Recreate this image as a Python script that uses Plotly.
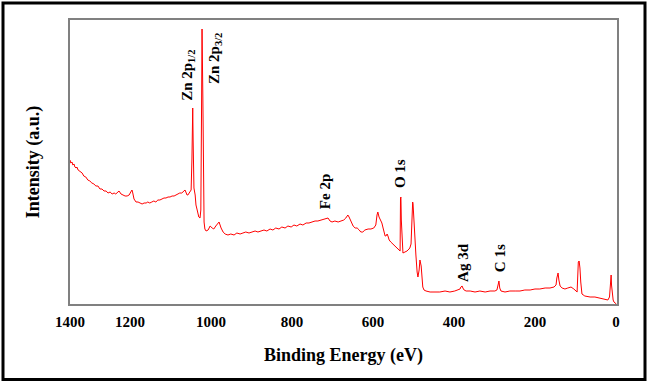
import plotly.graph_objects as go

# Binding energy (eV) and intensity (a.u.)
energy = [1348, 1346, 1343, 1341, 1338, 1336, 1333, 1331, 1328, 1323, 1318, 1314, 1309, 1304, 1299,
          1294, 1289, 1284, 1279, 1274, 1269, 1264, 1259, 1254, 1249, 1244, 1239, 1235, 1230, 1227,
          1222, 1217, 1212, 1207, 1202, 1198, 1195, 1193, 1190, 1185, 1180, 1175, 1170, 1165, 1160,
          1156, 1151, 1146, 1141, 1136, 1131, 1126, 1121, 1116, 1111, 1106, 1101, 1096, 1091, 1086,
          1081, 1077, 1072, 1067, 1064, 1062, 1059, 1057, 1054, 1052, 1049, 1047, 1046, 1045, 1044,
          1043, 1042, 1039, 1037, 1034, 1032, 1030, 1027, 1025, 1023, 1022, 1020, 1019, 1017, 1015,
          1012, 1007, 1002, 997, 993, 988, 983, 980, 975, 970, 965, 958, 951, 943, 936,
          928, 921, 914, 906, 899, 891, 884, 877, 869, 862, 854, 847, 840, 832, 825,
          817, 810, 802, 795, 788, 780, 773, 765, 758, 751, 743, 736, 728, 721, 716,
          711, 706, 701, 694, 686, 679, 672, 667, 662, 659, 654, 649, 644, 639, 634,
          630, 625, 620, 612, 605, 598, 593, 590, 588, 585, 583, 580, 578, 575, 573,
          570, 568, 565, 563, 560, 556, 551, 546, 541, 536, 533, 532, 531, 530, 528,
          526, 521, 516, 511, 509, 506, 504, 502, 501, 499, 496, 494, 491, 489, 486,
          484, 481, 479, 477, 474, 469, 459, 447, 435, 422, 410, 398, 390, 385, 383,
          380, 378, 375, 370, 360, 348, 336, 323, 311, 299, 294, 290, 289, 287, 284,
          274, 262, 249, 237, 225, 212, 200, 188, 175, 163, 153, 148, 146, 143, 141,
          138, 133, 126, 119, 111, 104, 99, 96, 94, 93, 91, 89, 87, 84, 77,
          64, 52, 40, 27, 20, 16, 14, 12, 11, 9, 7, 5, 2, -1]
intensity = [144, 141, 142, 139, 140, 137, 136, 137, 134, 132, 131, 128, 127, 124, 123,
             121, 120, 118, 118, 115, 115, 113, 113, 111, 112, 110, 111, 110, 112, 113,
             110, 109, 108, 108, 109, 112, 114, 111, 105, 102, 102, 101, 100, 101, 101,
             102, 101, 102, 103, 102, 104, 104, 105, 106, 106, 107, 107, 108, 108, 109,
             110, 111, 111, 113, 114, 112, 109, 109, 111, 112, 114, 144, 166, 196, 164,
             124, 116, 109, 99, 94, 90, 87, 86, 94, 207, 275, 207, 104, 82, 75,
             73, 74, 78, 76, 75, 78, 81, 82, 76, 72, 70, 69, 70, 69, 71,
             70, 71, 72, 71, 72, 73, 72, 73, 74, 73, 75, 74, 76, 75, 77,
             76, 78, 77, 79, 78, 80, 79, 81, 81, 82, 83, 83, 84, 85, 86,
             86, 83, 82, 83, 82, 83, 84, 86, 89, 87, 83, 78, 76, 76, 74,
             72, 72, 74, 75, 75, 76, 79, 89, 92, 87, 85, 82, 81, 76, 71,
             68, 68, 70, 68, 64, 62, 60, 59, 57, 54, 53, 106, 107, 84, 54,
             51, 52, 53, 55, 56, 60, 89, 102, 100, 82, 64, 49, 32, 27, 34,
             44, 38, 26, 17, 14, 13, 12, 12, 12, 13, 12, 13, 14, 15, 17,
             18, 16, 14, 13, 13, 12, 13, 12, 13, 13, 14, 21, 23, 16, 13,
             12, 13, 13, 13, 14, 14, 15, 15, 16, 16, 17, 19, 26, 31, 24,
             18, 16, 15, 16, 17, 15, 13, 12, 32, 42, 43, 36, 22, 10, 8,
             7, 7, 6, 5, 4, 7, 24, 29, 19, 7, 4, 2, 1, 0]

tick_vals = [1348, 1200, 1000, 800, 600, 400, 200, 0]
tick_text = ["1400", "1200", "1000", "800", "600", "400", "200", "0"]

peak_labels = ["Zn 2p<sub>1/2</sub>", "Zn 2p<sub>3/2</sub>", "Fe 2p", "O 1s", "Ag 3d", "C 1s"]
label_energy = [1057, 990, 718, 533, 378, 286]
label_intensity = [229, 245, 112, 130, 42, 46]

FONT = "Liberation Serif, Times New Roman, serif"

fig = go.Figure()
fig.add_trace(go.Scatter(x=energy, y=intensity, mode="lines",
                         line=dict(color="#ff0000", width=1), showlegend=False,
                         hoverinfo="skip"))

for txt, ex, iy in zip(peak_labels, label_energy, label_intensity):
    fig.add_annotation(x=ex, y=iy, xref="x", yref="y", text="<b>" + txt + "</b>",
                       textangle=-90, showarrow=False,
                       font=dict(family=FONT, size=15, color="black"))

W, H = 649, 383
ml, mr, mt, mb = 70, 32, 20, 79
pw, ph = W - ml - mr, H - mt - mb

def px_x(p):
    return (p - ml) / pw

def px_y(p):
    return (H - mb - p) / ph

fig.add_shape(type="rect", xref="paper", yref="paper",
              x0=px_x(3), x1=px_x(645), y0=px_y(379.5), y1=px_y(3),
              line=dict(color="black", width=3), fillcolor="rgba(0,0,0,0)", layer="above")

fig.update_layout(
    width=W, height=H,
    margin=dict(l=ml, r=mr, t=mt, b=mb),
    paper_bgcolor="white", plot_bgcolor="white",
    font=dict(family=FONT, color="black"),
    xaxis=dict(range=[1348, -2.5], tickvals=tick_vals, ticktext=tick_text,
               showgrid=False, zeroline=False, showline=True, mirror=True,
               linecolor="#808080", linewidth=1.5, ticks="",
               ticklabelstandoff=3,
               tickfont=dict(family=FONT, size=15, color="black", weight="bold"),
               title=dict(text="<b>Binding Energy (eV)</b>", standoff=20,
                          font=dict(family=FONT, size=18, color="black"))),
    yaxis=dict(range=[0, 284], showticklabels=False, showgrid=False, zeroline=False,
               showline=True, mirror=True, linecolor="#808080", linewidth=1.5, ticks="",
               title=dict(text="<b>Intensity (a.u.)</b>", standoff=24,
                          font=dict(family=FONT, size=18, color="black"))),
)

fig.write_html("out.html", config={"displayModeBar": False},
               post_script="document.body.style.margin='0';document.body.style.overflow='hidden';")
